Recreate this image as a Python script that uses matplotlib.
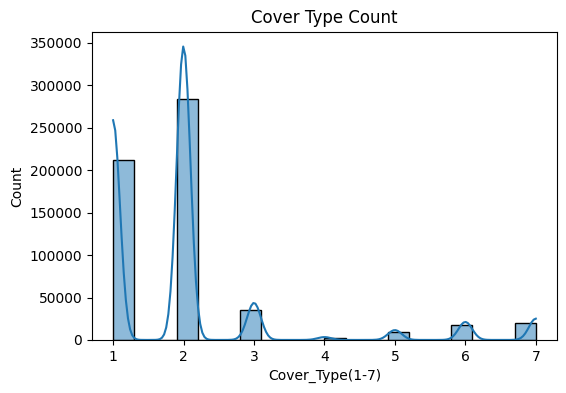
import numpy as np
import pandas as pd
import seaborn as sns
from matplotlib import pyplot as plt

# cover type counts
cover_types = [1, 2, 3, 4, 5, 6, 7]
counts = [211840, 283301, 35754, 2747, 9493, 17367, 20510]

df = pd.DataFrame({'Cover_Type': cover_types, 'n': counts})

fig, ax = plt.subplots(figsize=(5.66, 3.93), dpi=100)
plt.subplots_adjust(left=0.1625, right=0.984, top=0.919, bottom=0.135)

sns.histplot(data=df, x='Cover_Type', weights='n', bins=20, kde=True,
             kde_kws={'bw_adjust': 0.0673}, ax=ax)

ax.set_title('Cover Type Count')
ax.set_xlabel('Cover_Type(1-7)')
ax.set_ylabel('Count')

plt.savefig('out.png')
